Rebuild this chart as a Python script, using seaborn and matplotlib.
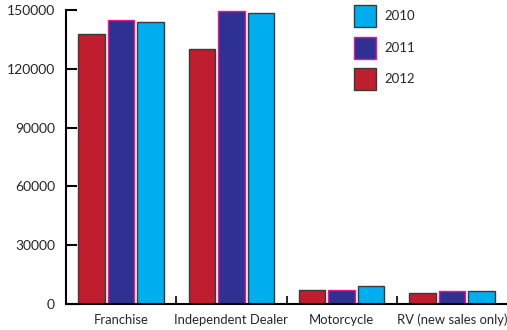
import matplotlib
matplotlib.use("Agg")
import matplotlib.pyplot as plt
import seaborn as sns
import pandas as pd
from matplotlib.patches import Patch
from matplotlib.ticker import FixedLocator

categories = ["Franchise", "Independent Dealer", "Motorcycle", "RV (new sales only)"]
years = ["2012", "2011", "2010"]
values_2012 = [138000, 130000, 7100, 5800]
values_2011 = [145000, 149500, 7000, 6800]
values_2010 = [144000, 148500, 9000, 6600]
y_ticks = [0, 30000, 60000, 90000, 120000, 150000]

fills = {"2012": "#be1e2d", "2011": "#2e3192", "2010": "#00aeef"}
edges = {"2012": "#3a3a3a", "2011": "#e6198c", "2010": "#3a3a3a"}

rows = []
for yr, vals in zip(years, [values_2012, values_2011, values_2010]):
    for c, v in zip(categories, vals):
        rows.append({"category": c, "year": yr, "value": v})
df = pd.DataFrame(rows)

sns.set_style("white")
plt.rcParams["font.family"] = ["Lato", "DejaVu Sans"]

fig = plt.figure(figsize=(5.07, 3.30), dpi=100)
ax = fig.add_axes([66 / 507, 26 / 330, 1 - 66 / 507, 294 / 330])

sns.barplot(data=df, x="category", y="value", hue="year", hue_order=years,
            order=categories, palette=fills, width=0.8, gap=0.1,
            ax=ax, legend=False, errorbar=None, saturation=1)

for cont, yr in zip(ax.containers, years):
    for p in cont.patches:
        p.set_edgecolor(edges[yr])
        p.set_linewidth(1.0)

ax.set_xlim(-0.5, 3.5)
ax.set_ylim(0, 150000)
ax.set_yticks(y_ticks)
ax.set_yticklabels([str(t) for t in y_ticks])
ax.set_xlabel("")
ax.set_ylabel("")

for s in ["top", "right"]:
    ax.spines[s].set_visible(False)
for s in ["left", "bottom"]:
    ax.spines[s].set_color("black")
    ax.spines[s].set_linewidth(1.5)

ax.tick_params(axis="y", direction="in", length=8, width=1.5, color="black",
               labelsize=10, pad=8, left=True)
ax.tick_params(axis="x", which="major", length=0, labelsize=9.4, pad=7)
ax.xaxis.set_minor_locator(FixedLocator([0.5, 1.5, 2.5]))
ax.tick_params(axis="x", which="minor", direction="in", length=6, width=1.2,
               color="black", bottom=True)

handles = [Patch(facecolor=fills[y], edgecolor=edges[y], linewidth=1.0, label=y)
           for y in ["2010", "2011", "2012"]]
ax.legend(handles=handles, loc="upper left", bbox_to_anchor=(0.627, 1.057),
          frameon=False, fontsize=9.5, handlelength=1.65, handleheight=2.2,
          labelspacing=0.72, handletextpad=0.6)

fig.savefig("out.png", dpi=100)
